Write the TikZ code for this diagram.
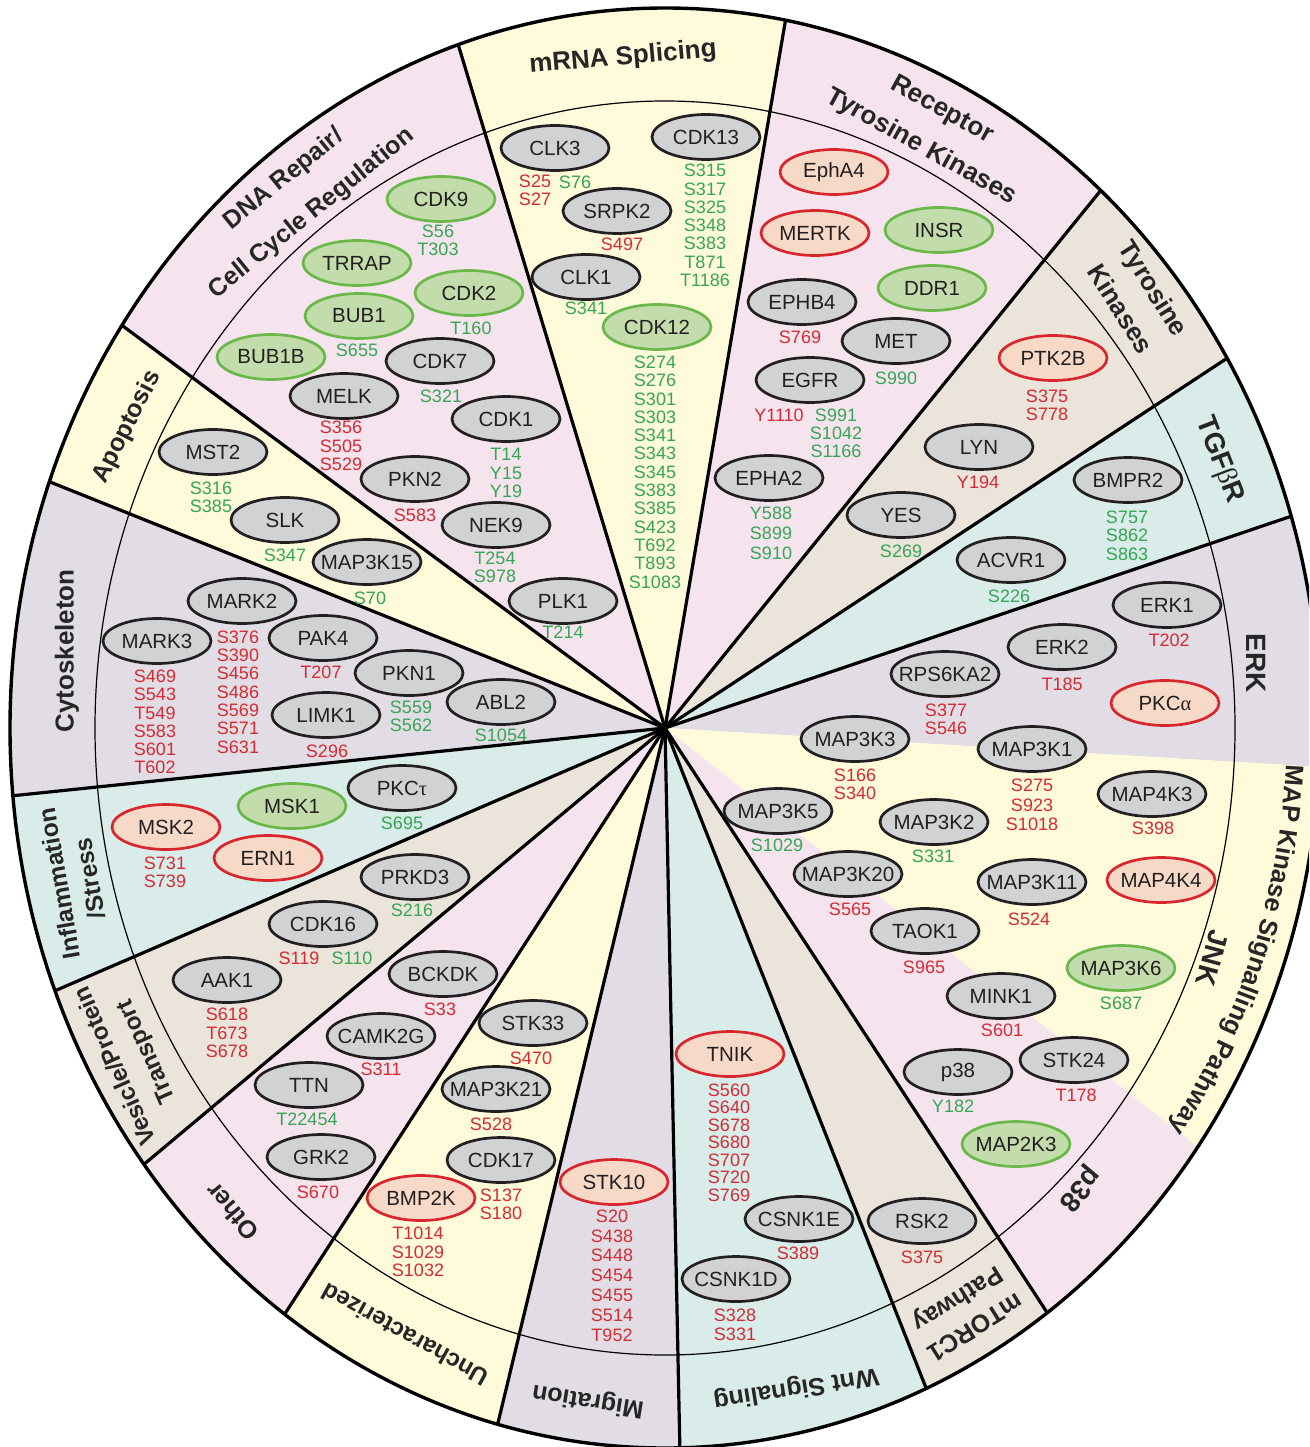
\documentclass[tikz,border=0pt]{standalone}
\usepackage{fontspec}
\setmainfont{Liberation Sans}
\newfontfamily\grk{Liberation Serif}
\usetikzlibrary{shapes.geometric,decorations.text}
\definecolor{cpink}{HTML}{F5E4EE}
\definecolor{cyel}{HTML}{FFFADA}
\definecolor{ctan}{HTML}{EBE4DA}
\definecolor{cteal}{HTML}{D9ECE9}
\definecolor{clav}{HTML}{E2DDE5}
\definecolor{kgray}{HTML}{D1D2D4}
\definecolor{kdark}{HTML}{231F20}
\definecolor{gfill}{HTML}{C2DDAB}
\definecolor{gborder}{HTML}{6BB84A}
\definecolor{rfill}{HTML}{F6D9C6}
\definecolor{rborder}{HTML}{D9262E}
\definecolor{sitered}{HTML}{D52B33}
\definecolor{sitegreen}{HTML}{35A653}
\definecolor{labc}{HTML}{262626}
\newcommand\kt[1]{\makebox[0pt]{#1}}
\newcommand\nodefont{\fontsize{20.5}{23}\selectfont}
\newcommand\sitefont{\fontsize{18}{18.3}\selectfont}
\newcommand\cf[2]{\fontsize{#1}{#2}\selectfont\bfseries}
\tikzset{
  kin/.style={ellipse, minimum width=108, minimum height=45, inner sep=0pt,
    line width=2.7, draw=kdark, fill=kgray, font=\nodefont, text=kdark},
  kgreen/.style={kin, draw=gborder, fill=gfill},
  kred/.style={kin, draw=rborder, fill=rfill},
  sred/.style={font=\sitefont, text=sitered, align=center, inner sep=0pt},
  sgreen/.style={sred, text=sitegreen},
  lsk/.style={font={\fontsize{18}{#1}\selectfont}},
  catlab/.style={font=\cf{25.5}{30}, text=labc, inner sep=0pt, align=center},
  sepline/.style={line width=3.2, draw=black},
  thinring/.style={line width=1.2, draw=black},
  outerline/.style={line width=3.4, draw=black}
}
\begin{document}
\begin{tikzpicture}[x=1pt,y=-1pt]
\useasboundingbox (0,0) rectangle (1309,1447);
\clip (0,0) rectangle (1309,1447);
\begin{scope}[shift={(665,728)}]
  \foreach \a/\b/\c in {-108.4/-79.4/cyel, -79.4/-48.3/cpink, -48.3/-30.9/ctan,
      -30.9/-17.1/cteal, -17.1/3.1/clav, 3.1/35.6/cyel, 35.6/54.3/cpink,
      54.3/66.5/ctan, 66.5/88.7/cteal, 88.7/104.8/clav, 104.8/125.5/cyel,
      125.5/142.7/cpink, 142.7/158.6/ctan, 158.6/174.6/cteal, 174.6/200/clav,
      200/214/cyel, 214/251.6/cpink}
    \fill[\c] (0,0) -- (\a:655 and 720) arc[start angle=\a, end angle=\b, x radius=655, y radius=720] -- cycle;
  \draw[thinring] (0,0) ellipse[x radius=570, y radius=627];
  \foreach \a in {-108.4,-79.4,-48.3,-30.9,-17.1,54.3,66.5,88.7,104.8,125.5,142.7,158.6,174.6,200,214}
    \draw[sepline] (0,0) -- (\a:655 and 720);
  \draw[outerline] (0,0) ellipse[x radius=655, y radius=720];
  \path[decorate, decoration={text along path, text color=labc,
      text={|\cf{25.5}{30}|MAP Kinase Signalling Pathway}, text align=center}]
    (0:622 and 684) arc[start angle=0, end angle=39, x radius=622, y radius=684];
\end{scope}

% ---- category labels
\node[catlab, rotate=5, font=\cf{26}{30}] (lmrna) at (623,58) {mRNA Splicing};
\node[catlab, rotate=39, font=\cf{25}{44}] (ldna) at (298,196.5) {DNA Repair/\\Cell Cycle Regulation};
\node[catlab, rotate=-29, font=\cf{26}{42}] (lrtk) at (931.5,129) {Receptor\\Tyrosine Kinases};
\node[catlab, rotate=-58, font=\cf{26}{39}] (ltk) at (1137.5,298.5) {Tyrosine\\Kinases};
\node[catlab, rotate=-69, font=\cf{28}{32}] (ltgf) at (1219,460) {TGF{\grk\mdseries β}R};
\node[catlab, rotate=-90, font=\cf{28}{32}] (lerk) at (1256,663) {ERK};
\node[catlab, rotate=-105, font=\cf{28}{32}] (ljnk) at (1212,958) {JNK};
\node[catlab, rotate=-130, font=\cf{28}{32}] (lp38) at (1079,1188) {p38};
\node[catlab, rotate=-148, font=\cf{25}{33}] (lmt) at (965.5,1311.5) {mTORC1\\Pathway};
\node[catlab, rotate=189, font=\cf{25}{30}] (lwnt) at (796,1388) {Wnt Signaling};
\node[catlab, rotate=171, font=\cf{25}{30}] (lmig) at (588,1400) {Migration};
\node[catlab, rotate=151, font=\cf{24}{30}] (lunc) at (405,1335) {Uncharacterized};
\node[catlab, rotate=130, font=\cf{25}{30}] (loth) at (232,1212) {Other};
\node[catlab, rotate=114, font=\cf{24}{34}] (lves) at (132,1058.5) {Vesicle/Protein\\Transport};
\node[catlab, rotate=100, font=\cf{24.5}{31}] (linf) at (74.5,881) {Inflammation\\/Stress};
\node[catlab, rotate=90, font=\cf{26}{30}] (lcyt) at (67,651) {Cytoskeleton};
\node[catlab, rotate=63, font=\cf{25}{30}] (lapo) at (127,427) {Apoptosis};

% ---- mRNA splicing
\node[kin] (clk3) at (555,148) {\kt{CLK3}};
\node[sred] (clk3r) at (535,190.5) {S25\\S27};
\node[sgreen] (clk3g) at (575,182) {S76};
\node[kin] (srpk2) at (617,211) {\kt{SRPK2}};
\node[sred] (srpk2s) at (622,244) {S497};
\node[kin] (clk1) at (586,277) {\kt{CLK1}};
\node[sgreen] (clk1s) at (586,308) {S341};
\node[kgreen] (cdk12) at (657,327) {\kt{CDK12}};
\node[sgreen] (cdk12s) at (655,472) {S274\\S276\\S301\\S303\\S341\\S343\\S345\\S383\\S385\\S423\\T692\\T893\\S1083};
\node[kin] (cdk13) at (706,137) {\kt{CDK13}};
\node[sgreen] (cdk13s) at (705,225.5) {S315\\S317\\S325\\S348\\S383\\T871\\T1186};

% ---- DNA repair / cell cycle
\node[kgreen] (cdk9) at (441,199) {\kt{CDK9}};
\node[sgreen] (cdk9s) at (438,240) {S56\\T303};
\node[kgreen] (trrap) at (357,263) {\kt{TRRAP}};
\node[kgreen] (cdk2) at (469,293) {\kt{CDK2}};
\node[sgreen] (cdk2s) at (471,328) {T160};
\node[kgreen] (bub1) at (359,316) {\kt{BUB1}};
\node[sgreen] (bub1s) at (357,350) {S655};
\node[kgreen] (bub1b) at (271,357) {\kt{BUB1B}};
\node[kin] (cdk7) at (440,361) {\kt{CDK7}};
\node[sgreen] (cdk7s) at (441,396) {S321};
\node[kin] (melk) at (344,396) {\kt{MELK}};
\node[sred] (melks) at (341,446) {S356\\S505\\S529};
\node[kin] (cdk1) at (506,419) {\kt{CDK1}};
\node[sgreen] (cdk1s) at (506,473) {T14\\Y15\\Y19};
\node[kin] (pkn2) at (415,479) {\kt{PKN2}};
\node[sred] (pkn2s) at (415,515) {S583};
\node[kin] (nek9) at (496,525) {\kt{NEK9}};
\node[sgreen] (nek9s) at (495,567.5) {T254\\S978};
\node[kin] (plk1) at (563,601) {\kt{PLK1}};
\node[sgreen] (plk1s) at (563,632) {T214};

% ---- apoptosis
\node[kin] (mst2) at (213,452) {\kt{MST2}};
\node[sgreen] (mst2s) at (211,497.5) {S316\\S385};
\node[kin] (slk) at (285,520) {\kt{SLK}};
\node[sgreen] (slks) at (285,555) {S347};
\node[kin] (map3k15) at (367,562) {\kt{MAP3K15}};
\node[sgreen] (map3k15s) at (370,598) {S70};

% ---- cytoskeleton
\node[kin] (mark2) at (242,601) {\kt{MARK2}};
\node[sred] (mark2s) at (238,692) {S376\\S390\\S456\\S486\\S569\\S571\\S631};
\node[kin] (mark3) at (157,641) {\kt{MARK3}};
\node[sred] (mark3s) at (155,722) {S469\\S543\\T549\\S583\\S601\\T602};
\node[kin] (pak4) at (323,638) {\kt{PAK4}};
\node[sred] (pak4s) at (321,672) {T207};
\node[kin] (pkn1) at (409,673) {\kt{PKN1}};
\node[sgreen] (pkn1s) at (411,716) {S559\\S562};
\node[kin] (limk1) at (326,715) {\kt{LIMK1}};
\node[sred] (limk1s) at (327,751) {S296};
\node[kin] (abl2) at (501,702) {\kt{ABL2}};
\node[sgreen] (abl2s) at (501,735) {S1054};

% ---- inflammation / stress
\node[kin] (pkct) at (402,788) {\kt{PKC{\grk τ}}};
\node[sgreen] (pkcts) at (402,823) {S695};
\node[kgreen] (msk1) at (292,806) {\kt{MSK1}};
\node[kred] (msk2) at (166,827) {\kt{MSK2}};
\node[sred] (msk2s) at (165,872.5) {S731\\S739};
\node[kred] (ern1) at (268,858) {\kt{ERN1}};

% ---- vesicle / protein transport
\node[kin] (prkd3) at (415,877) {\kt{PRKD3}};
\node[sgreen] (prkd3s) at (412,910) {S216};
\node[kin] (cdk16) at (323,924) {\kt{CDK16}};
\node[sred] (cdk16r) at (299,958) {S119};
\node[sgreen] (cdk16g) at (352,958) {S110};
\node[kin] (aak1) at (227,980) {\kt{AAK1}};
\node[sred] (aak1s) at (227,1033) {S618\\T673\\S678};

% ---- other
\node[kin] (bckdk) at (443,974) {\kt{BCKDK}};
\node[sred] (bckdks) at (440,1009) {S33};
\node[kin] (camk2g) at (381,1036) {\kt{CAMK2G}};
\node[sred] (camk2gs) at (381,1069) {S311};
\node[kin] (ttn) at (309,1085) {\kt{TTN}};
\node[sgreen] (ttns) at (307,1119) {T22454};
\node[kin] (grk2) at (321,1157) {\kt{GRK2}};
\node[sred] (grk2s) at (318,1192) {S670};

% ---- uncharacterized
\node[kin] (stk33) at (533,1023) {\kt{STK33}};
\node[sred] (stk33s) at (531,1058) {S470};
\node[kin] (map3k21) at (496,1089) {\kt{MAP3K21}};
\node[sred] (map3k21s) at (491,1124) {S528};
\node[kin] (cdk17) at (501,1160) {\kt{CDK17}};
\node[sred] (cdk17s) at (501,1204) {S137\\S180};
\node[kred] (bmp2k) at (421,1198) {\kt{BMP2K}};
\node[sred] (bmp2ks) at (418,1252) {T1014\\S1029\\S1032};

% ---- migration
\node[kred] (stk10) at (614,1182) {\kt{STK10}};
\node[sred, lsk=19.8] (stk10s) at (612,1275.5) {S20\\S438\\S448\\S454\\S455\\S514\\T952};

% ---- wnt signaling
\node[kred] (tnik) at (730,1054) {\kt{TNIK}};
\node[sred, lsk=17.5] (tniks) at (729,1142.5) {S560\\S640\\S678\\S680\\S707\\S720\\S769};
\node[kin] (csnk1e) at (799,1219) {\kt{CSNK1E}};
\node[sred] (csnk1es) at (798,1253) {S389};
\node[kin] (csnk1d) at (736,1279) {\kt{CSNK1D}};
\node[sred, lsk=19] (csnk1ds) at (735,1324.5) {S328\\S331};

% ---- mTORC1
\node[kin] (rsk2) at (922,1221) {\kt{RSK2}};
\node[sred] (rsk2s) at (922,1257) {S375};

% ---- p38
\node[kin] (p38) at (958,1072) {\kt{p38}};
\node[sgreen] (p38s) at (953,1106) {Y182};
\node[kin] (stk24) at (1074,1060) {\kt{STK24}};
\node[sred] (stk24s) at (1076,1095) {T178};
\node[kgreen] (map2k3) at (1016,1144) {\kt{MAP2K3}};
\node[kin] (mink1) at (1001,996) {\kt{MINK1}};
\node[sred] (mink1s) at (1002,1030) {S601};

% ---- JNK
\node[kin] (map3k5) at (778,811) {\kt{MAP3K5}};
\node[sgreen] (map3k5s) at (777,845) {S1029};
\node[kin] (map3k20) at (848,874) {\kt{MAP3K20}};
\node[sred] (map3k20s) at (850,909) {S565};
\node[kin] (map3k2) at (934,822) {\kt{MAP3K2}};
\node[sgreen] (map3k2s) at (933,856) {S331};
\node[kin] (taok1) at (925,931) {\kt{TAOK1}};
\node[sred] (taok1s) at (924,967) {S965};
\node[kin] (map3k11) at (1032,882) {\kt{MAP3K11}};
\node[sred] (map3k11s) at (1029,919) {S524};
\node[kred] (map4k4) at (1161,880) {\kt{MAP4K4}};
\node[kgreen] (map3k6) at (1121,968) {\kt{MAP3K6}};
\node[sgreen] (map3k6s) at (1121,1003) {S687};
\node[kin] (map3k3) at (855,739) {\kt{MAP3K3}};
\node[sred] (map3k3s) at (855,784) {S166\\S340};
\node[kin] (map3k1) at (1032,749) {\kt{MAP3K1}};
\node[sred, lsk=19.5] (map3k1s) at (1032,805) {S275\\S923\\S1018};
\node[kin] (map4k3) at (1152,794) {\kt{MAP4K3}};
\node[sred] (map4k3s) at (1153,828) {S398};

% ---- ERK
\node[kin] (erk1) at (1167,605) {\kt{ERK1}};
\node[sred] (erk1s) at (1169,640) {T202};
\node[kin] (erk2) at (1062,647) {\kt{ERK2}};
\node[sred] (erk2s) at (1062,684) {T185};
\node[kin] (rps6ka2) at (945,674) {\kt{RPS6KA2}};
\node[sred] (rps6ka2s) at (946,719) {S377\\S546};
\node[kred] (pkca) at (1165,703) {\kt{PKC{\grk α}}};

% ---- TGFbR
\node[kin] (bmpr2) at (1128,480) {\kt{BMPR2}};
\node[sgreen] (bmpr2s) at (1127,535.5) {S757\\S862\\S863};
\node[kin] (acvr1) at (1011,560) {\kt{ACVR1}};
\node[sgreen] (acvr1s) at (1009,596) {S226};

% ---- tyrosine kinases
\node[kred] (ptk2b) at (1053,358) {\kt{PTK2B}};
\node[sred] (ptk2bs) at (1047,405) {S375\\S778};
\node[kin] (lyn) at (979,447) {\kt{LYN}};
\node[sred] (lyns) at (978,482) {Y194};
\node[kin] (yes) at (901,515) {\kt{YES}};
\node[sgreen] (yess) at (901,551) {S269};

% ---- receptor tyrosine kinases
\node[kred] (epha4) at (834,172) {\kt{EphA4}};
\node[kred] (mertk) at (815,233) {\kt{MERTK}};
\node[kgreen] (insr) at (939,230) {\kt{INSR}};
\node[kgreen] (ddr1) at (932,288) {\kt{DDR1}};
\node[kin] (ephb4) at (802,302) {\kt{EPHB4}};
\node[sred] (ephb4s) at (800,337) {S769};
\node[kin] (met) at (896,341) {\kt{MET}};
\node[sgreen] (mets) at (896,378) {S990};
\node[kin] (egfr) at (810,380) {\kt{EGFR}};
\node[sred] (egfrr) at (779,415) {Y1110};
\node[sgreen] (egfrg) at (836,433.5) {S991\\S1042\\S1166};
\node[kin] (epha2) at (769,478) {\kt{EPHA2}};
\node[sgreen, lsk=20] (epha2s) at (771,533) {Y588\\S899\\S910};
\end{tikzpicture}
\end{document}
